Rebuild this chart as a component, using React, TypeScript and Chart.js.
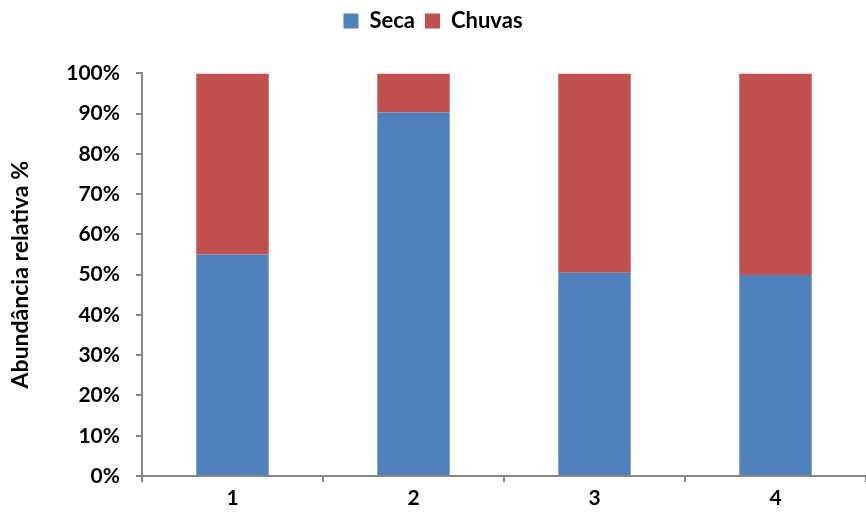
import React, { useEffect, useRef } from "react";
import { Chart, registerables } from "chart.js";

Chart.register(...registerables);

const categories = ["1", "2", "3", "4"];
const secaValues = [55.0, 90.3, 50.5, 49.9];
const chuvasValues = [45.0, 9.7, 49.5, 50.1];
const yTicks = [0, 10, 20, 30, 40, 50, 60, 70, 80, 90, 100];

const FONT = "Lato";
const W: any = "bold";
const AXIS = "#868686";

export default function App() {
  const ref = useRef<HTMLCanvasElement | null>(null);
  useEffect(() => {
    document.body.style.margin = "0";
    const ctx = ref.current!;
    const chart = new Chart(ctx, {
      type: "bar",
      data: {
        labels: categories,
        datasets: [
          { label: "Seca", data: secaValues, backgroundColor: "#4F81BD", borderWidth: 0 },
          { label: "Chuvas", data: chuvasValues, backgroundColor: "#C0504D", borderWidth: 0 },
        ],
      },
      options: {
        animation: false,
        responsive: false,
        devicePixelRatio: 1,
        layout: { padding: { top: 0, right: 0, bottom: 0, left: 0 } },
        datasets: { bar: { barPercentage: 0.4, categoryPercentage: 1 } },
        plugins: {
          legend: {
            position: "top",
            weight: 3000,
            labels: {
              boxWidth: 15,
              boxHeight: 15,
              padding: 10,
              color: "#000",
              font: { family: FONT, size: 22, weight: W },
            },
          },
          title: {
            display: true,
            text: " ",
            position: "top",
            font: { size: 12 },
            padding: { top: 0, bottom: 17 },
          },
          tooltip: { enabled: false },
        },
        scales: {
          x: {
            stacked: true,
            grid: { display: true, drawOnChartArea: false, drawTicks: true, tickLength: 6, color: AXIS, lineWidth: 2, offset: true },
            border: { color: AXIS, width: 2 },
            ticks: { color: "#000", padding: 4, font: { family: FONT, size: 21, weight: W } },
            afterFit: (s: any) => { s.height = 39; },
          },
          y: {
            stacked: true,
            min: 0,
            max: 100,
            afterBuildTicks: (s: any) => { s.ticks = yTicks.map((v) => ({ value: v })); },
            grid: { display: true, drawOnChartArea: false, drawTicks: true, tickLength: 6, color: AXIS, lineWidth: 2 },
            border: { color: AXIS, width: 2 },
            ticks: {
              color: "#000",
              padding: 16,
              font: { family: FONT, size: 21, weight: W },
              callback: (v: any) => v + "%",
            },
            title: {
              display: true,
              text: "Abundância relativa %",
              color: "#000",
              font: { family: FONT, size: 23, weight: W },
              padding: { top: 7, bottom: 0 },
            },
            afterFit: (s: any) => { s.width = 142; },
          },
        },
      },
    });
    return () => chart.destroy();
  }, []);
  return (
    <div style={{ width: 866, height: 515 }}>
      <canvas ref={ref} width={866} height={515} />
    </div>
  );
}
